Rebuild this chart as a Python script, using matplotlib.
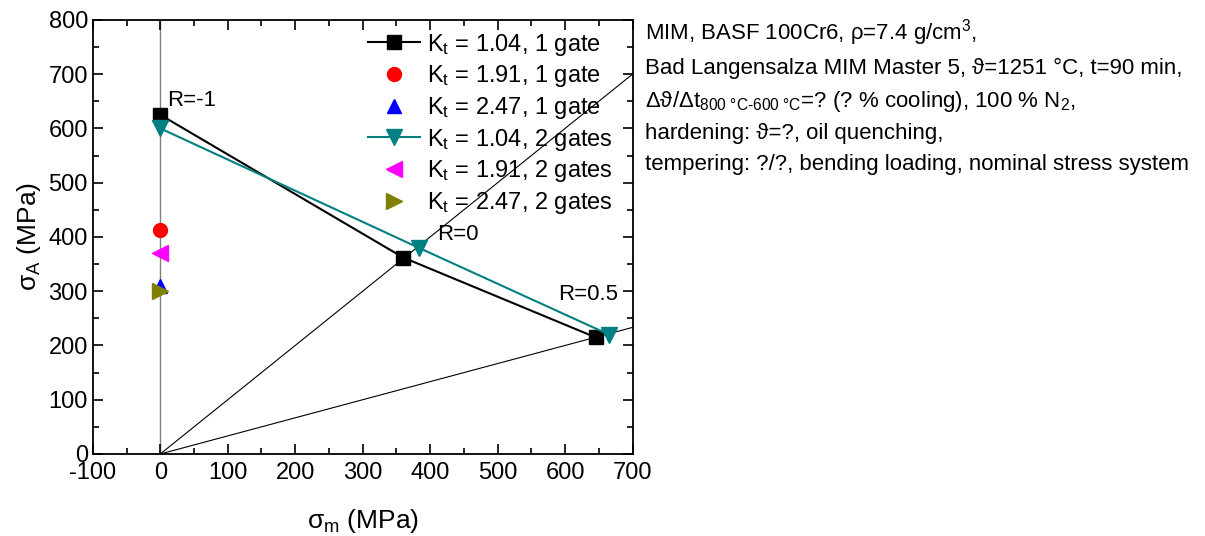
import numpy as np
import matplotlib.pyplot as plt

plt.rcParams['font.family'] = ['Liberation Sans', 'DejaVu Sans']
plt.rcParams['mathtext.fontset'] = 'custom'
plt.rcParams['mathtext.rm'] = 'Liberation Sans'
plt.rcParams['mathtext.it'] = 'Liberation Sans'
plt.rcParams['axes.unicode_minus'] = False

# === Données ===
kt104_1g_m = [0, 360, 645]
kt104_1g_a = [625, 362, 215]
kt191_1g_m = [0]
kt191_1g_a = [413]
kt247_1g_m = [0]
kt247_1g_a = [310]
kt104_2g_m = [0, 383, 665]
kt104_2g_a = [600, 380, 220]
kt191_2g_m = [0]
kt191_2g_a = [370]
kt247_2g_m = [0]
kt247_2g_a = [300]

r_values = [0, 0.5]
r_labels = ["R=-1", "R=0", "R=0.5"]

fig = plt.figure(figsize=(12.05, 5.36), dpi=100)
ax = fig.add_axes([0.077, 0.153, 0.448, 0.81])

# lignes R
ax.axvline(0, color="gray", lw=1, zorder=1)
xr = np.array([0, 700])
for r in r_values:
    ax.plot(xr, xr * (1 - r) / (1 + r), color="black", lw=0.8, zorder=1)

ax.plot(kt104_1g_m, kt104_1g_a, "-s", color="black", ms=10, lw=1.5, label=r"K$_\mathregular{t}$ = 1.04, 1 gate")
ax.plot(kt191_1g_m, kt191_1g_a, "o", color="red", ms=10, ls="none", label=r"K$_\mathregular{t}$ = 1.91, 1 gate")
ax.plot(kt247_1g_m, kt247_1g_a, "^", color="blue", ms=10, ls="none", label=r"K$_\mathregular{t}$ = 2.47, 1 gate")
ax.plot(kt104_2g_m, kt104_2g_a, "-v", color="teal", ms=11, lw=1.5, label=r"K$_\mathregular{t}$ = 1.04, 2 gates")
ax.plot(kt191_2g_m, kt191_2g_a, "<", color="magenta", ms=11, ls="none", label=r"K$_\mathregular{t}$ = 1.91, 2 gates")
ax.plot(kt247_2g_m, kt247_2g_a, ">", color="olive", ms=11, ls="none", label=r"K$_\mathregular{t}$ = 2.47, 2 gates")

ax.text(10, 632, r_labels[0], fontsize=16, va="bottom")
ax.text(410, 385, r_labels[1], fontsize=16, va="bottom")
ax.text(590, 275, r_labels[2], fontsize=16, va="bottom")

ax.set_xlim(-100, 700)
ax.set_ylim(0, 800)
ax.set_xticks(np.arange(-100, 701, 100))
ax.set_yticks(np.arange(0, 801, 100))
ax.set_xticks(np.arange(-100, 701, 50), minor=True)
ax.set_yticks(np.arange(0, 801, 50), minor=True)
ax.tick_params(which="both", direction="in", top=True, right=True, labelsize=17, width=1.2)
ax.tick_params(which="major", length=7)
ax.tick_params(which="minor", length=4)
ax.tick_params(axis="x", pad=6)
for s in ax.spines.values():
    s.set_linewidth(1.3)

ax.set_xlabel(r"$\mathregular{\sigma_m}$ (MPa)", fontsize=19, labelpad=16)
ax.set_ylabel(r"$\mathregular{\sigma_A}$ (MPa)", fontsize=19, labelpad=4)

ax.legend(loc="upper right", frameon=False, fontsize=17, handlelength=2.2,
          handletextpad=0.3, labelspacing=0.24, borderaxespad=0.1, numpoints=1,
          bbox_to_anchor=(0.985, 1.0))

info = ("MIM, BASF 100Cr6, ρ=7.4 g/cm$^\\mathregular{3}$,\n"
        "Bad Langensalza MIM Master 5, ϑ=1251 °C, t=90 min,\n"
        "Δϑ/Δt$_\\mathregular{800\\ °C\\text{-}600\\ °C}$=? (? % cooling), 100 % N$_\\mathregular{2}$,\n"
        "hardening: ϑ=?, oil quenching,\n"
        "tempering: ?/?, bending loading, nominal stress system")
fig.text(0.535, 0.968, info, fontsize=16, va="top", ha="left", linespacing=1.58)

fig.savefig("out.png", dpi=100)
